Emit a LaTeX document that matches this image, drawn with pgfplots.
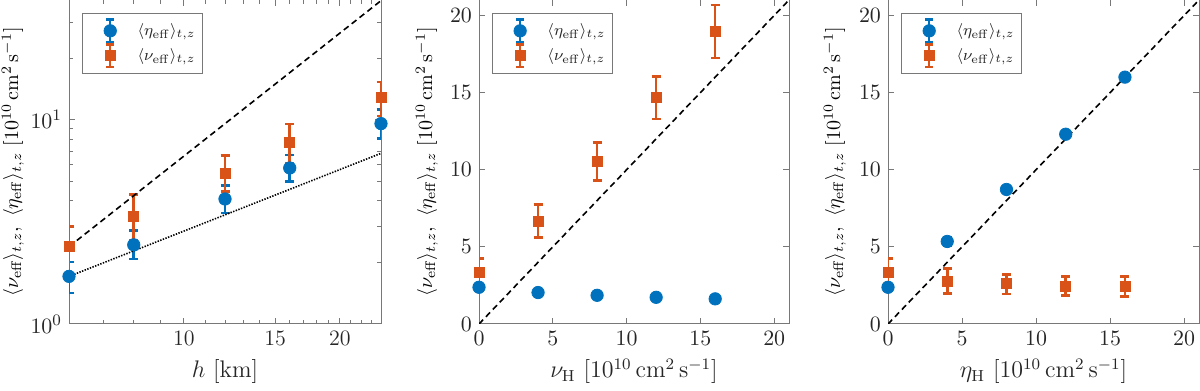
\documentclass[border=0pt]{standalone}
\usepackage{pgfplots}
\pgfplotsset{compat=1.18}

\definecolor{mblue}{RGB}{0,114,189}
\definecolor{morange}{RGB}{217,83,25}
\definecolor{axgray}{RGB}{120,120,120}
\definecolor{txtgray}{RGB}{38,38,38}

\pgfplotsset{
  panel/.style={
    scale only axis,
    height=162pt,
    axis line style={draw=axgray, line width=0.5pt},
    every tick/.style={draw=axgray, line width=0.5pt},
    major tick length=3pt, minor tick length=1.8pt,
    tick label style={font=\fontsize{11}{13}\selectfont, text=txtgray},
    label style={font=\fontsize{12}{14}\selectfont, text=txtgray},
    every axis y label/.style={rotate=90, anchor=south},
    legend style={at={(0.041,0.96)}, anchor=north west, draw=axgray,
      font=\fontsize{8}{10}\selectfont, text=txtgray,
      inner xsep=1.5pt, inner ysep=2.5pt, row sep=0pt},
    legend cell align=left,
    ylabel={$\langle\nu_{\rm eff}\rangle_{t,z},\ \langle\eta_{\rm eff}\rangle_{t,z}\ [10^{10}\,{\rm cm^2\,s^{-1}}]$},
  },
  ebimg/.style={legend image code/.code={
      \path[draw=none] (0cm,0cm) -- (0.85cm,0cm);
      \draw[line width=1.1pt, solid] (0.44cm,-0.2cm) -- (0.44cm,0.2cm)
        (0.37cm,-0.2cm) -- (0.51cm,-0.2cm) (0.37cm,0.2cm) -- (0.51cm,0.2cm);
      \draw[mark repeat=1] plot coordinates {(0.44cm,0cm)};
  }},
  etaset/.style={only marks, mark=*, mark size=3.1pt, color=mblue, ebimg,
    error bars/.cd, y dir=both, y explicit,
    error bar style={line width=1.3pt},
    error mark options={rotate=90, mark size=2.25pt, line width=1.3pt}},
  nuset/.style={only marks, mark=square*, mark size=2.5pt, color=morange, ebimg,
    error bars/.cd, y dir=both, y explicit,
    error bar style={line width=1.3pt},
    error mark options={rotate=90, mark size=2.25pt, line width=1.3pt}},
  refline/.style={black, line width=0.8pt, dash pattern=on 3pt off 2pt, forget plot},
}

\begin{document}
\begin{tikzpicture}
\useasboundingbox (-34.5pt,-33.5pt) rectangle (565.5pt,162pt);

% left: log-log against h
\begin{axis}[panel, at={(0pt,0pt)}, width=156pt,
  xmode=log, ymode=log, xmin=6, xmax=24, ymin=1, ymax=38.5,
  xtick={10,15,20}, xticklabels={10,15,20},
  minor xtick={7,8,9,11,12,13,14,16,17,18,19,21,22,23},
  ytick={1,10}, yticklabels={$10^0$,$10^1$},
  minor ytick={2,3,4,5,6,7,8,9,20,30},
  ylabel style={at={(axis description cs:-0.122,0.5)}},
  xlabel={$h\ [\mathrm{km}]$}]
\addplot[etaset] coordinates {
  (6,1.71) += (0,0.30) -= (0,0.29)
  (8,2.44) += (0,0.42) -= (0,0.36)
  (12,4.09) += (0,0.66) -= (0,0.60)
  (16,5.80) += (0,0.91) -= (0,0.83)
  (24,9.56) += (0,1.64) -= (0,1.46)
};
\addlegendentry{$\langle\eta_{\rm eff}\rangle_{t,z}$}
\addplot[nuset] coordinates {
  (6,2.39) += (0,0.61) -= (0,0.62)
  (8,3.38) += (0,0.91) -= (0,0.80)
  (12,5.44) += (0,1.24) -= (0,0.99)
  (16,7.74) += (0,1.78) -= (0,1.66)
  (24,12.8) += (0,2.5) -= (0,2.4)
};
\addlegendentry{$\langle\nu_{\rm eff}\rangle_{t,z}$}
\addplot[refline] coordinates {(6,2.39) (24,38.2)};
\addplot[black, line width=0.8pt, dash pattern=on 0.7pt off 0.7pt, forget plot]
  coordinates {(6,1.71) (24,6.84)};
\end{axis}

% middle: against nu_H
\begin{axis}[panel, at={(205pt,0pt)}, width=155pt,
  xmin=0, xmax=21, ymin=0, ymax=21,
  xtick={0,5,...,20}, ytick={0,5,...,20},
  ylabel style={at={(axis description cs:-0.110,0.5)}},
  xlabel={$\nu_{\rm H}\ [10^{10}\,{\rm cm}^2\,{\rm s}^{-1}]$}]
\addplot[etaset] coordinates {
  (0,2.38) +- (0,0.12)
  (4,2.04) +- (0,0.12)
  (8,1.86) +- (0,0.12)
  (12,1.73) +- (0,0.12)
  (16,1.63) +- (0,0.12)
};
\addlegendentry{$\langle\eta_{\rm eff}\rangle_{t,z}$}
\addplot[nuset] coordinates {
  (0,3.32) += (0,0.91) -= (0,0.89)
  (4,6.68) += (0,1.08) -= (0,1.08)
  (8,10.56) += (0,1.22) -= (0,1.24)
  (12,14.66) += (0,1.38) -= (0,1.37)
  (16,18.97) += (0,1.70) -= (0,1.73)
};
\addlegendentry{$\langle\nu_{\rm eff}\rangle_{t,z}$}
\addplot[refline] coordinates {(0,0) (21,21)};
\end{axis}

% right: against eta_H
\begin{axis}[panel, at={(409.5pt,0pt)}, width=155.5pt,
  xmin=0, xmax=21, ymin=0, ymax=21,
  xtick={0,5,...,20}, ytick={0,5,...,20},
  ylabel style={at={(axis description cs:-0.113,0.5)}},
  xlabel={$\eta_{\rm H}\ [10^{10}\,{\rm cm}^2\,{\rm s}^{-1}]$}]
\addplot[etaset] coordinates {
  (0,2.38) +- (0,0.12)
  (4,5.35) +- (0,0.25)
  (8,8.72) +- (0,0.15)
  (12,12.30) +- (0,0.12)
  (16,16.00) +- (0,0.12)
};
\addlegendentry{$\langle\eta_{\rm eff}\rangle_{t,z}$}
\addplot[nuset] coordinates {
  (0,3.32) += (0,0.91) -= (0,0.89)
  (4,2.75) += (0,0.83) -= (0,0.76)
  (8,2.60) += (0,0.60) -= (0,0.65)
  (12,2.45) += (0,0.61) -= (0,0.61)
  (16,2.43) += (0,0.63) -= (0,0.63)
};
\addlegendentry{$\langle\nu_{\rm eff}\rangle_{t,z}$}
\addplot[refline] coordinates {(0,0) (21,21)};
\end{axis}
\end{tikzpicture}
\end{document}
